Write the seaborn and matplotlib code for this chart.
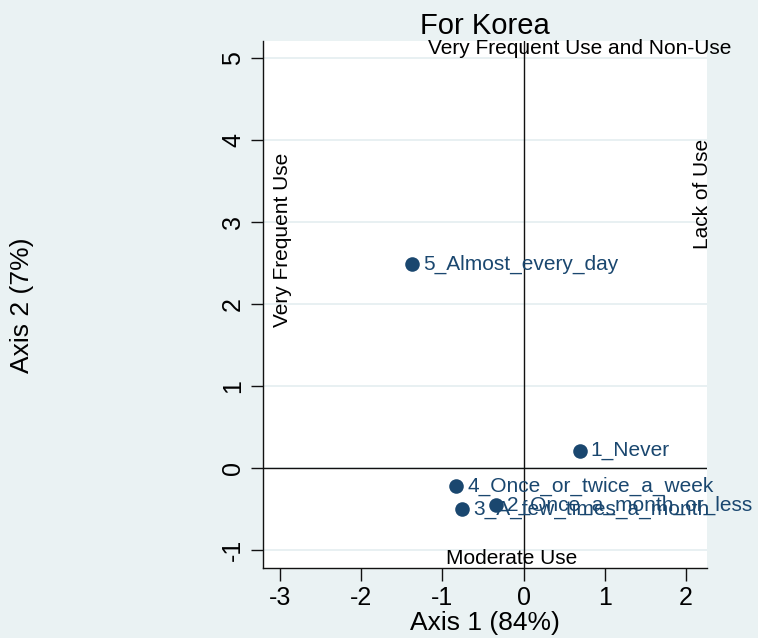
import matplotlib
matplotlib.use("Agg")
import matplotlib.pyplot as plt
import seaborn as sns
import pandas as pd

# row coordinates
categories = ["1_Never", "2_Once_a_month_or_less", "3_A_few_times_a_month",
              "4_Once_or_twice_a_week", "5_Almost_every_day"]
axis1 = [0.69, -0.34, -0.76, -0.83, -1.37]
axis2 = [0.21, -0.45, -0.50, -0.22, 2.49]

x_ticks = [-3, -2, -1, 0, 1, 2]
y_ticks = [-1, 0, 1, 2, 3, 4, 5]

df = pd.DataFrame({"category": categories, "axis1": axis1, "axis2": axis2})

bg = "#EAF2F3"
navy = "#1a476f"

sns.set_style("white")
plt.rcParams["font.family"] = ["Liberation Sans", "DejaVu Sans"]
plt.rcParams["text.color"] = "black"
plt.rcParams["axes.labelcolor"] = "black"
plt.rcParams["xtick.color"] = "black"
plt.rcParams["ytick.color"] = "black"

fig = plt.figure(figsize=(7.58, 6.38), dpi=100, facecolor=bg)
ax = fig.add_axes([263 / 758, 70 / 638, 444 / 758, 527 / 638])
ax.set_facecolor("white")

# faint horizontal grid like Stata's s2color scheme
for yt in y_ticks:
    ax.axhline(yt, color="#E4EEF0", lw=1.2, zorder=0)

ax.axvline(0, color="#111111", lw=1.0, zorder=1)
ax.axhline(0, color="#111111", lw=1.0, zorder=1)

sns.scatterplot(data=df, x="axis1", y="axis2", ax=ax, color=navy,
                s=110, edgecolor=navy, linewidth=0, zorder=3)

for _, r in df.iterrows():
    ax.annotate(r["category"], (r["axis1"], r["axis2"]), xytext=(8, 0),
                textcoords="offset points", va="center", ha="left",
                fontsize=15, color=navy, zorder=4, annotation_clip=False)

ax.set_xlim(-3.21, 2.26)
ax.set_ylim(-1.22, 5.21)
ax.set_xticks(x_ticks)
ax.set_yticks(y_ticks)
ax.set_xticklabels([str(t) for t in x_ticks], fontsize=18)
ax.set_yticklabels([str(t) for t in y_ticks], fontsize=18, rotation=90, va="center")
ax.tick_params(axis="both", direction="out", length=9, width=1.0, color="#111111",
               pad=4, left=True, bottom=True)

for side in ["top", "right"]:
    ax.spines[side].set_visible(False)
for side in ["left", "bottom"]:
    ax.spines[side].set_color("#111111")
    ax.spines[side].set_linewidth(1.0)

# quadrant annotations
ax.text(0.69, 5.23, "Very Frequent Use and Non-Use", fontsize=15, ha="center", va="top")
ax.text(-0.15, -1.1, "Moderate Use", fontsize=15, ha="center", va="center")
ax.text(-2.97, 2.78, "Very Frequent Use", fontsize=15, rotation=90, ha="center", va="center")
ax.text(2.2, 3.34, "Lack of Use", fontsize=15, rotation=90, ha="center", va="center")

ax.set_xlabel("Axis 1 (84%)", fontsize=19, labelpad=1)
ax.set_ylabel("")
fig.text(22 / 758, 1 - 305 / 638, "Axis 2 (7%)", fontsize=19, rotation=90,
         ha="center", va="center")
ax.set_title("For Korea", fontsize=21, pad=5)

fig.savefig("out.png", dpi=100, facecolor=bg)
